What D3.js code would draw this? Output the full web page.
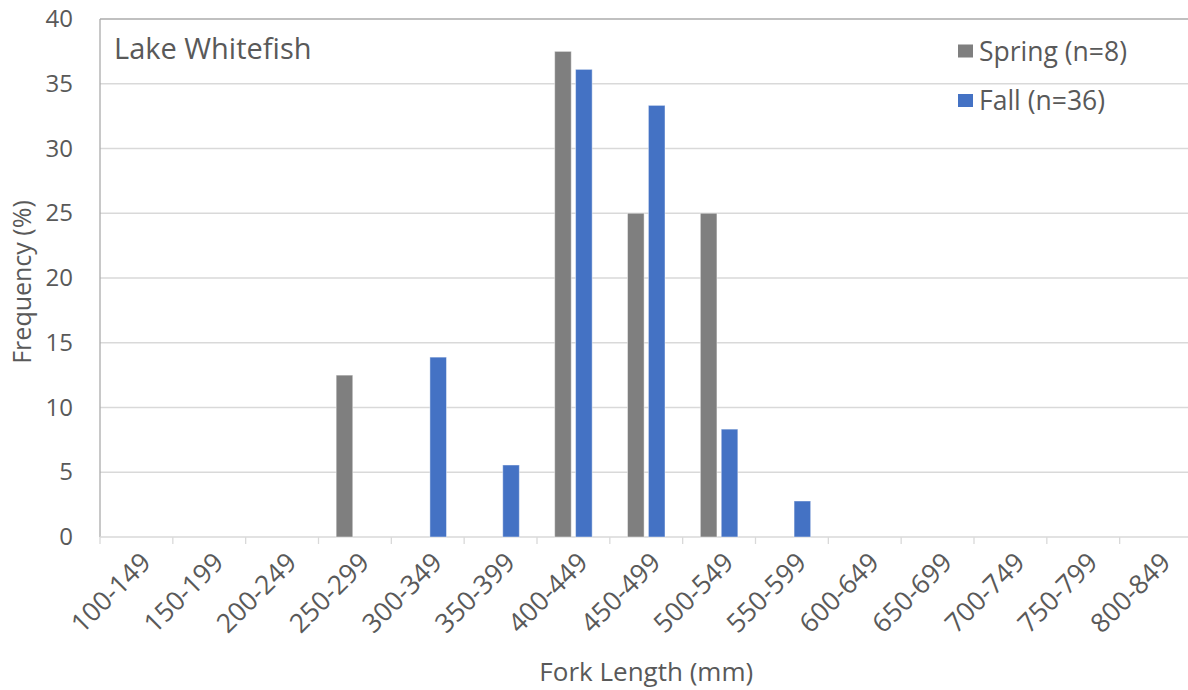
<!DOCTYPE html>
<html>
<head>
<meta charset="utf-8">
<script src="https://cdn.jsdelivr.net/npm/d3@7"></script>
<style>
  html, body { margin: 0; padding: 0; background: #fff; }
  svg { display: block; }
  text { font-family: "Open Sans", "Noto Sans", sans-serif; fill: #595959; }
</style>
</head>
<body>
<svg id="chart" width="1188" height="690"></svg>
<script>
// Fork length classes (mm)
const categories = ["100-149", "150-199", "200-249", "250-299", "300-349", "350-399",
  "400-449", "450-499", "500-549", "550-599", "600-649", "650-699", "700-749",
  "750-799", "800-849"];

// Frequency (%) per length class
const springValues = [0, 0, 0, 12.5, 0, 0, 37.5, 25, 25, 0, 0, 0, 0, 0, 0];
const fallValues = [0, 0, 0, 0, 13.89, 5.56, 36.11, 33.33, 8.33, 2.78, 0, 0, 0, 0, 0];

const seriesNames = ["Spring (n=8)", "Fall (n=36)"];
const seriesColors = ["#7f7f7f", "#4472c4"];
const yTicks = [0, 5, 10, 15, 20, 25, 30, 35, 40];

const svg = d3.select("#chart");
const plotLeft = 100, plotRight = 1192.5, plotTop = 19, plotBottom = 537;

const x = d3.scaleBand().domain(categories).range([plotLeft, plotRight]).paddingInner(0).paddingOuter(0);
const xs = d3.scaleBand().domain(seriesNames).range([0, x.bandwidth()])
  .paddingInner(0.206).paddingOuter(0.845);
const y = d3.scaleLinear().domain([0, 40]).range([plotBottom, plotTop]);

// horizontal gridlines
svg.append("g").selectAll("line").data(yTicks.filter(d => d > 0 && d < 40)).join("line")
  .attr("x1", plotLeft).attr("x2", plotRight)
  .attr("y1", d => y(d)).attr("y2", d => y(d))
  .attr("stroke", "#d9d9d9").attr("stroke-width", 1.3);

// plot frame: top and left edges
svg.append("line").attr("x1", plotLeft).attr("x2", plotRight).attr("y1", y(40)).attr("y2", y(40))
  .attr("stroke", "#ababab").attr("stroke-width", 1.3);
svg.append("line").attr("x1", plotLeft).attr("x2", plotLeft).attr("y1", y(40)).attr("y2", y(0))
  .attr("stroke", "#ababab").attr("stroke-width", 1.3);

// y axis labels
const yAxis = d3.axisLeft(y).tickValues(yTicks).tickSize(0).tickPadding(27);
const gy = svg.append("g").attr("transform", `translate(${plotLeft},0)`).call(yAxis);
gy.select(".domain").remove();
gy.selectAll("text").style("font-size", "24px").attr("fill", "#595959")
  .style("font-family", "'Open Sans', sans-serif");

// x axis with tick marks on class boundaries
const gx = svg.append("g").attr("transform", `translate(0,${plotBottom})`);
gx.append("line").attr("x1", plotLeft).attr("x2", plotRight).attr("stroke", "#d9d9d9").attr("stroke-width", 1.3);
gx.selectAll("line.tick").data(categories).join("line").attr("class", "tick")
  .attr("x1", d => x(d)).attr("x2", d => x(d)).attr("y1", 0).attr("y2", 7)
  .attr("stroke", "#d9d9d9").attr("stroke-width", 1.3);
gx.selectAll("text").data(categories).join("text")
  .attr("transform", d => `translate(${x(d) + x.bandwidth() / 2 + 2},${13}) rotate(-45)`)
  .attr("text-anchor", "end").attr("dy", "0.75em")
  .style("font-size", "26.5px").text(d => d);

// bars
const series = [springValues, fallValues];
series.forEach((vals, i) => {
  svg.append("g").selectAll("rect")
    .data(categories.map((c, j) => ({ c, v: vals[j] })).filter(d => d.v > 0))
    .join("rect")
    .attr("x", d => x(d.c) + xs(seriesNames[i]))
    .attr("width", xs.bandwidth())
    .attr("y", d => y(d.v))
    .attr("height", d => y(0) - y(d.v))
    .attr("fill", seriesColors[i])
    .attr("stroke", "rgba(255,255,255,0.45)").attr("stroke-width", 1);
});

// chart title inside plot
svg.append("text").attr("x", 114).attr("y", 59).style("font-size", "29px").text("Lake Whitefish");

// legend
const legend = svg.append("g");
seriesNames.forEach((name, i) => {
  const ly = 51.5 + i * 49.5;
  legend.append("rect").attr("x", 958).attr("y", ly - 7).attr("width", 15).attr("height", 13)
    .attr("fill", seriesColors[i]);
  legend.append("text").attr("x", 979).attr("y", ly).attr("dy", "0.35em")
    .style("font-size", "26.5px").text(name);
});

// axis titles
svg.append("text").attr("x", (plotLeft + plotRight) / 2).attr("y", 681).attr("text-anchor", "middle")
  .style("font-size", "26px").text("Fork Length (mm)");
svg.append("text").attr("transform", `translate(31,${(plotTop + plotBottom) / 2 + 4}) rotate(-90)`)
  .attr("text-anchor", "middle").style("font-size", "25px").text("Frequency (%)");
</script>
</body>
</html>
